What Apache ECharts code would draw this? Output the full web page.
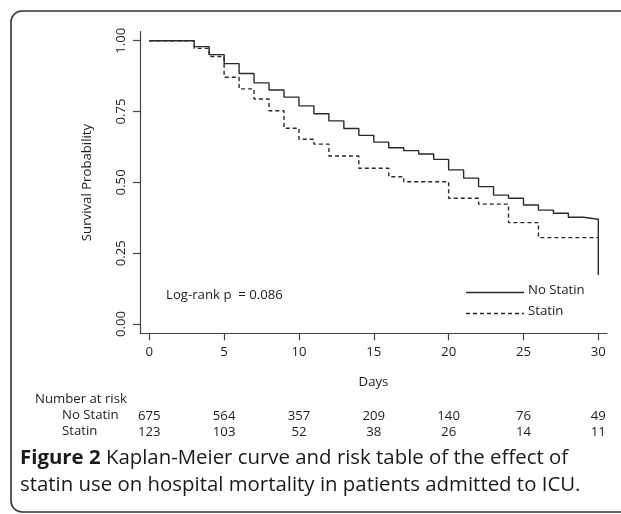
<!DOCTYPE html>
<html>
<head>
<meta charset="utf-8">
<script src="https://cdn.jsdelivr.net/npm/echarts@6/dist/echarts.min.js"></script>
<style>
html, body { margin: 0; padding: 0; background: #fff; }
#chart { width: 621px; height: 514px; }
</style>
</head>
<body>
<div id="chart"></div>
<script>
// survival steps: [day, probability]
var noStatinDays = [0, 3, 4, 5, 6, 7, 8, 9, 10, 11, 12, 13, 14, 15, 16, 17, 18, 19, 20, 21, 22, 23, 24, 25, 26, 27, 28, 29, 30, 30]
var noStatinSurv = [1.0, 0.979, 0.951, 0.919, 0.884, 0.851, 0.826, 0.801, 0.770, 0.742, 0.717, 0.690, 0.666, 0.642, 0.622, 0.612, 0.600, 0.581, 0.544, 0.515, 0.485, 0.455, 0.444, 0.420, 0.402, 0.391, 0.377, 0.370, 0.370, 0.173]
var statinDays = [0, 3, 4, 5, 6, 7, 8, 9, 10, 11, 12, 14, 16, 17, 20, 22, 24, 26, 30]
var statinSurv = [1.0, 0.973, 0.944, 0.871, 0.830, 0.794, 0.753, 0.691, 0.652, 0.635, 0.593, 0.550, 0.520, 0.502, 0.444, 0.423, 0.358, 0.305, 0.305]

var xTicks = [0, 5, 10, 15, 20, 25, 30]
var yTicks = [0, 0.25, 0.5, 0.75, 1]
var riskNoStatin = [675, 564, 357, 209, 140, 76, 49]
var riskStatin = [123, 103, 52, 38, 26, 14, 11]

var FONT = 'Open Sans'
var FS = 13.2
var SMALL = FS + 'px "Open Sans"'
var INK = '#1e1e1e'

function pairs(xs, ys) {
    var res = []
    for (var i = 0; i < xs.length; i++) {
        res.push([xs[i], ys[i]])
    }
    return res
}

function riskAxis(counts, offset) {
    return {
        type: 'value', position: 'bottom', offset: offset,
        min: -0.62, max: 30.58,
        axisLine: { show: false }, axisTick: { show: false }, splitLine: { show: false },
        axisLabel: {
            customValues: xTicks, margin: 0, fontFamily: FONT, fontSize: FS, color: INK,
            formatter: function (v) {
                return counts[xTicks.indexOf(v)]
            }
        }
    }
}

var chart = echarts.init(document.getElementById('chart'))
var option = {
    animation: false,
    backgroundColor: '#fff',
    grid: { left: 140, right: 14, top: 31.7, bottom: 180.7 },
    xAxis: [{
        type: 'value', min: -0.62, max: 30.58,
        name: 'Days', nameLocation: 'middle', nameGap: 42,
        nameTextStyle: { fontFamily: FONT, fontSize: FS, color: INK },
        axisLine: { onZero: false, lineStyle: { color: '#444', width: 1.2 } },
        axisTick: { customValues: xTicks, length: 7, lineStyle: { color: '#444', width: 1.2 } },
        axisLabel: { customValues: xTicks, margin: 12.5, fontFamily: FONT, fontSize: FS, color: INK },
        splitLine: { show: false }
    }, riskAxis(riskNoStatin, 76.5), riskAxis(riskStatin, 92.5)],
    yAxis: {
        type: 'value', min: -0.0328, max: 1.0318,
        name: 'Survival Probability', nameLocation: 'middle', nameGap: 46.5,
        nameTextStyle: { fontFamily: FONT, fontSize: FS, color: INK },
        axisLine: { onZero: false, lineStyle: { color: '#444', width: 1.2 } },
        axisTick: { customValues: yTicks, length: 7, lineStyle: { color: '#444', width: 1.2 } },
        axisLabel: {
            customValues: yTicks, rotate: 90, margin: 12.5, fontFamily: FONT, fontSize: FS, color: INK,
            formatter: function (v) { return v.toFixed(2) }
        },
        splitLine: { show: false }
    },
    series: [{
        name: 'No Statin', type: 'line', step: 'end', symbol: 'none',
        data: pairs(noStatinDays, noStatinSurv),
        lineStyle: { color: '#2a2a2a', width: 1.4 }
    }, {
        name: 'Statin', type: 'line', step: 'end', symbol: 'none',
        data: pairs(statinDays, statinSurv),
        lineStyle: { color: '#2a2a2a', width: 1.4, type: [4, 3] }
    }],
    graphic: [
        // rounded frame of the figure
        { type: 'rect', shape: { x: 11, y: 11, width: 700, height: 501, r: 11 },
          style: { fill: 'none', stroke: '#333', lineWidth: 1.6 } },
        { type: 'text', left: 166, top: 289,
          style: { text: 'Log-rank p  = 0.086', font: SMALL, fill: INK } },
        { type: 'line', shape: { x1: 466, y1: 292.5, x2: 524, y2: 292.5 },
          style: { stroke: '#2a2a2a', lineWidth: 1.4 } },
        { type: 'text', left: 528, top: 284,
          style: { text: 'No Statin', font: SMALL, fill: INK } },
        { type: 'line', shape: { x1: 466, y1: 313.5, x2: 524, y2: 313.5 },
          style: { stroke: '#2a2a2a', lineWidth: 1.4, lineDash: [4, 3] } },
        { type: 'text', left: 528, top: 305,
          style: { text: 'Statin', font: SMALL, fill: INK } },
        { type: 'text', left: 35, top: 393,
          style: { text: 'Number at risk', font: SMALL, fill: INK } },
        { type: 'text', left: 62, top: 409,
          style: { text: 'No Statin', font: SMALL, fill: INK } },
        { type: 'text', left: 62, top: 425,
          style: { text: 'Statin', font: SMALL, fill: INK } },
        { type: 'text', left: 20, top: 448,
          style: { text: '{b|Figure 2} Kaplan-Meier curve and risk table of the effect of',
                   font: '20.4px "Open Sans"', fill: '#1a1a1a',
                   rich: { b: { fontWeight: 'bold', fontSize: 20.4, fontFamily: FONT, fill: '#1a1a1a' } } } },
        { type: 'text', left: 20, top: 475,
          style: { text: 'statin use on hospital mortality in patients admitted to ICU.',
                   font: '20.4px "Open Sans"', fill: '#1a1a1a' } }
    ]
}
chart.setOption(option)
</script>
</body>
</html>
